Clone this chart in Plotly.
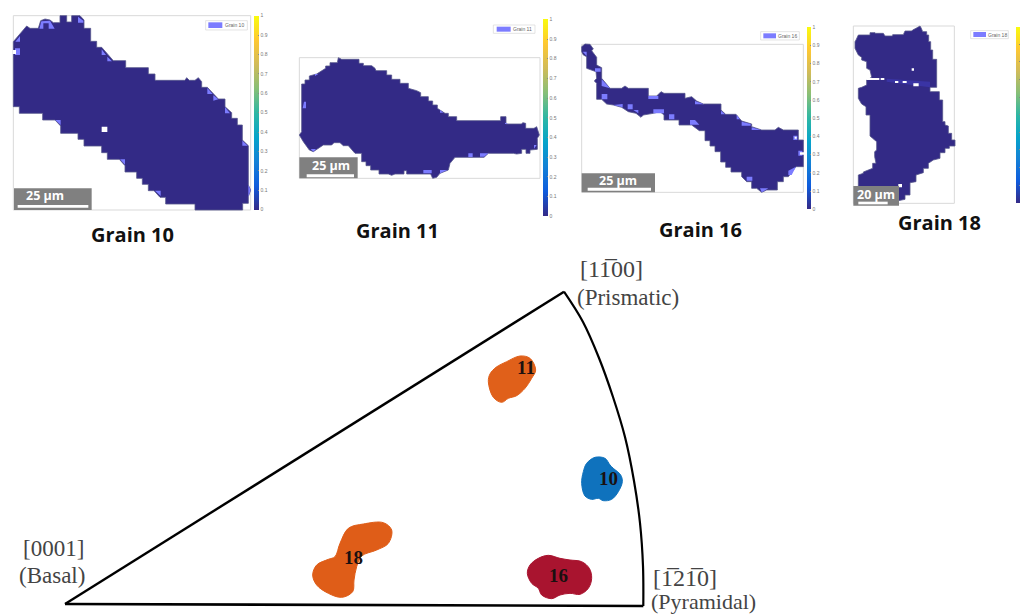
import plotly.graph_objects as go

# ---------- data: outlines, in crop coordinates (3x crop) ----------
grain10_outline = [(40,125),(80,78),(90,85),(115,85),(122,62),(135,57),(150,60),(160,68),(180,68),(180,47),(200,47),(200,66),(215,66),(215,47),(240,47),(252,60),(252,85),(272,85),(272,124),(290,124),(290,142),(305,142),(340,182),(377,182),(377,203),(445,203),(445,222),(465,222),(465,241),(555,241),(560,233),(568,241),(585,241),(595,233),(605,245),(605,262),(622,262),(655,297),(675,297),(675,320),(695,338),(695,355),(712,355),(712,375),(727,375),(727,420),(745,437),(745,555),(752,570),(745,590),(745,610),(728,610),(728,630),(585,630),(585,612),(497,612),(497,592),(480,592),(462,572),(445,572),(445,553),(427,553),(427,535),(410,535),(410,516),(375,516),(375,497),(358,478),(322,478),(322,458),(305,458),(305,438),(252,438),(252,418),(234,418),(234,400),(182,400),(182,378),(165,360),(128,360),(128,340),(58,340),(58,320),(40,320)]
grain10_patches = [[(46,125),(60,108),(60,125)],[(45,145),(60,145),(60,165),(45,165)],[(118,86),(124,64),(150,62),(164,86),(146,86),(146,70),(130,70),(130,86)],[(234,50),(250,62),(250,68),(234,68)],[(305,148),(318,165),(305,165)],[(322,170),(336,184),(322,184)],[(622,264),(638,282),(622,282)],[(640,286),(655,298),(640,302)],[(675,322),(690,340),(675,340)],[(727,422),(743,437),(727,437)],[(745,555),(752,570),(745,590)],[(166,360),(182,360),(182,375)],[(360,478),(375,478),(375,494)],[(465,572),(482,572),(482,588)]]
grain10_holes = [[(305,380),(322,380),(322,396),(305,396)],[(38,150),(48,150),(48,162),(38,162)]]

grain11_outline = [(58,405),(65,395),(65,252),(75,252),(75,240),(88,240),(88,228),(110,222),(137,205),(137,198),(150,198),(150,188),(172,188),(175,173),(185,178),(237,178),(237,190),(250,190),(250,197),(275,197),(285,205),(288,212),(320,212),(320,225),(335,225),(335,238),(360,238),(360,250),(385,250),(385,265),(410,272),(422,278),(422,290),(445,290),(445,303),(458,303),(458,315),(472,315),(472,325),(495,340),(505,340),(505,350),(530,350),(530,362),(662,362),(662,350),(678,350),(678,372),(725,372),(728,368),(737,370),(737,385),(762,385),(770,380),(778,405),(772,415),(772,448),(750,450),(750,460),(738,460),(738,448),(725,448),(725,460),(710,462),(700,460),(625,460),(612,472),(525,472),(510,490),(505,510),(480,520),(470,532),(458,535),(452,522),(380,522),(380,512),(372,512),(372,522),(345,522),(335,526),(325,522),(297,522),(297,510),(272,510),(272,497),(258,497),(258,485),(245,485),(245,460),(225,460),(205,437),(190,437),(180,428),(162,428),(155,435),(130,435),(112,447),(100,455),(88,450),(78,437),(70,425)]
grain11_patches = [[(68,325),(72,305),(78,305),(78,325)],[(92,447),(108,447),(100,455)],[(565,460),(578,460),(578,471),(565,471)],[(600,460),(625,460),(612,470),(600,470)],[(430,510),(455,510),(455,520),(430,520)],[(480,510),(502,510),(480,520)],[(480,330),(490,338),(480,338)],[(675,368),(685,372),(675,372)],[(762,435),(770,435),(762,446)],[(105,222),(115,222),(105,228)]]
grain11_holes = []

grain16_outline = [(65,140),(75,132),(90,133),(100,147),(95,152),(110,172),(110,195),(125,203),(125,235),(150,265),(185,265),(195,258),(205,265),(265,265),(265,288),(290,288),(303,275),(312,280),(375,280),(375,295),(395,290),(410,303),(430,312),(483,312),(483,330),(497,343),(528,343),(545,363),(575,372),(575,380),(605,390),(645,390),(655,382),(670,390),(715,390),(715,420),(730,420),(730,500),(708,500),(685,530),(670,530),(670,545),(652,545),(652,570),(620,570),(605,577),(590,565),(575,565),(575,545),(560,545),(545,530),(545,516),(513,516),(513,502),(497,502),(497,486),(482,486),(482,455),(465,455),(465,438),(450,438),(450,422),(435,422),(435,392),(418,392),(395,375),(357,375),(357,360),(312,360),(312,345),(300,335),(280,340),(250,345),(243,352),(228,340),(205,335),(185,322),(160,315),(140,312),(125,298),(110,298),(110,250),(103,243),(110,235),(108,215),(80,205),(80,170),(70,165),(65,155)]
grain16_patches = [[(125,282),(142,282),(142,298),(125,298)],[(203,313),(218,313),(218,328),(203,328)],[(327,343),(343,343),(343,358),(327,358)],[(390,360),(405,360),(418,374),(390,374)],[(280,328),(312,328),(312,340),(280,340)],[(265,288),(295,288),(295,297),(265,297)],[(405,303),(432,313),(405,313)],[(545,365),(572,372),(572,377),(545,377)],[(575,382),(603,390),(575,390)],[(700,407),(712,407),(712,420),(700,420)],[(715,452),(727,452),(727,467),(715,467)],[(560,530),(577,530),(577,542),(560,542)],[(600,565),(625,565),(605,577)],[(685,512),(708,500),(695,525),(685,525)],[(125,238),(150,265),(125,258)],[(105,205),(122,205),(122,215),(105,215)],[(68,155),(80,155),(80,168)],[(160,315),(188,312),(188,322)],[(220,330),(235,330),(235,340)],[(483,332),(495,343),(483,343)],[(530,345),(540,358),(530,358)]]
grain16_holes = [[(720,457),(732,457),(732,464),(720,464)],[(704,410),(710,410),(710,416),(704,416)]]

grain18_outline = [(78,120),(85,105),(120,105),(120,98),(135,98),(135,100),(160,100),(165,108),(188,108),(188,104),(220,104),(225,93),(245,93),(248,90),(258,85),(270,78),(274,85),(278,95),(290,95),(290,105),(296,105),(296,125),(302,125),(302,150),(308,150),(308,178),(320,178),(320,262),(300,262),(300,275),(328,275),(328,300),(338,300),(338,365),(345,365),(345,375),(355,378),(355,400),(365,400),(365,420),(375,420),(375,438),(358,438),(358,445),(345,445),(345,458),(330,458),(330,475),(310,480),(295,490),(295,505),(280,505),(280,518),(258,525),(258,545),(240,548),(240,585),(225,585),(225,598),(205,602),(150,598),(85,558),(85,525),(100,520),(100,516),(128,505),(128,490),(138,490),(134,470),(134,455),(140,450),(140,425),(128,415),(120,408),(120,345),(108,345),(108,320),(95,312),(85,295),(85,265),(95,262),(110,255),(110,240),(125,232),(120,210),(110,205),(110,185),(95,180),(95,172),(85,165),(75,145),(75,125)]
grain18_patches = [[(170,236),(300,245),(300,262),(170,245)]]
grain18_holes = [[(110,234),(148,234),(148,240),(110,240)],[(152,234),(163,234),(163,240),(152,240)],[(195,243),(205,243),(205,249),(195,249)],[(218,243),(230,243),(230,249),(218,249)],[(250,250),(266,250),(266,259),(250,259)],[(245,205),(252,205),(252,212),(245,212)],[(205,552),(216,552),(216,562),(205,562)]]

ipf_basal = (65, 604)
ipf_prismatic_arc = [(564,291.7),(583,322),(599,358),(613,397),(625,437),(634,481),(640,523),(643,566),(643.3,606)]
ipf_pyramidal = (643.3, 606)

blob11 = [(55,395),(60,372),(78,352),(110,335),(150,318),(180,325),(197,360),(185,385),(165,415),(140,437),(115,445),(95,457),(70,442)]
blob10 = [(335,700),(340,665),(350,640),(375,622),(405,625),(420,645),(430,655),(452,675),(457,695),(445,725),(425,748),(400,752),(385,745),(365,748),(345,738)]
blob16 = [(172,970),(180,945),(205,925),(235,916),(270,925),(300,930),(335,935),(358,955),(365,985),(355,1015),(330,1033),(300,1030),(270,1035),(245,1046),(215,1035),(205,1015),(185,1000)]
blob18 = [(938,225),(950,195),(985,178),(1005,170),(1020,130),(1045,85),(1090,72),(1150,68),(1175,90),(1165,130),(1130,150),(1085,168),(1070,200),(1062,240),(1058,275),(1025,292),(985,280),(950,255)]

grain_names = ["Grain 10", "Grain 11", "Grain 16", "Grain 18"]
scale_texts = ["25 µm", "25 µm", "25 µm", "20 µm"]
colorbar_ticks = [0, 0.1, 0.2, 0.3, 0.4, 0.5, 0.6, 0.7, 0.8, 0.9, 1]
grain_value = [0, 1]

# ---------- styling / layout ----------
W, H = 1022, 614
GRAIN = "#332a86"
PATCH = "#7c7cff"
EDGE = "#55558c"
PARULA = [[0,"#352a87"],[0.125,"#0f5cdd"],[0.25,"#1481d6"],[0.375,"#06a4ca"],[0.5,"#2eb7a4"],
          [0.625,"#87bf77"],[0.75,"#d1bb59"],[0.875,"#fec832"],[1,"#f9fb0e"]]

def crop(pts, ox, oy):
    return [(ox + x / 3, oy + y / 3) for x, y in pts]

panels = [
    dict(off=(0,0), outline=grain10_outline, patches=grain10_patches, holes=grain10_holes, pfill=PATCH,
         frame=(40,47,752,630), legend=(617,62,742,90), patch=(625,67,667,84), ltext=704,
         scale=(42,565,275,630), bar=(53,615,265,623), stext=(135,586),
         cbar=(762,47,776,630), labels=True, title=(398,702)),
    dict(off=(280,0), outline=grain11_outline, patches=grain11_patches, holes=grain11_holes, pfill=PATCH,
         frame=(58,173,780,535), legend=(640,75,765,100), patch=(650,80,692,95), ltext=728,
         scale=(58,472,233,535), bar=(80,523,222,532), stext=(152,495),
         cbar=(790,58,804,648), labels=True, title=(352,692)),
    dict(off=(560,0), outline=grain16_outline, patches=grain16_patches, holes=grain16_holes, pfill=PATCH,
         frame=(65,133,730,577), legend=(602,95,718,120), patch=(610,100,648,115), ltext=683,
         scale=(65,520,285,577), bar=(83,563,273,572), stext=(175,540),
         cbar=(741,82,752,628), labels=True, title=(420,688)),
    dict(off=(830,0), outline=grain18_outline, patches=grain18_patches, holes=grain18_holes, pfill="#3a34a4",
         frame=(70,78,373,610), legend=(422,92,535,116), patch=(430,96,468,111), ltext=501,
         scale=(70,558,207,617), bar=(85,605,173,613), stext=(138,582),
         cbar=(557,80,570,607), labels=False, title=(328,668)),
]

fig = go.Figure()
shapes, annos = [], []

def poly_trace(polys, fill, line=None, lw=0, ox=0, oy=0):
    xs, ys = [], []
    for p in polys:
        q = crop(p, ox, oy)
        xs += [a for a, _ in q] + [q[0][0], None]
        ys += [b for _, b in q] + [q[0][1], None]
    return go.Scatter(x=xs, y=ys, mode="lines", fill="toself", fillcolor=fill,
                      line=dict(color=line or fill, width=lw), hoverinfo="skip", showlegend=False)

def rect(box, ox, oy, fill=None, line=None, lw=0, layer="above"):
    x0, y0, x1, y1 = box
    return dict(type="rect", xref="x", yref="y", x0=ox+x0/3, y0=oy+y0/3, x1=ox+x1/3, y1=oy+y1/3, layer=layer,
                fillcolor=fill or "rgba(0,0,0,0)", line=dict(color=line or "rgba(0,0,0,0)", width=lw))

def text(x, y, s, size, color, family, anchor="center"):
    return dict(x=x, y=y, xref="x", yref="y", text=s, showarrow=False, xanchor=anchor, yanchor="middle",
                font=dict(size=size, color=color, family=family))

for i, (p, name, st) in enumerate(zip(panels, grain_names, scale_texts)):
    ox, oy = p["off"]
    shapes.append(rect(p["frame"], ox, oy, "#ffffff", "#d9d9d9", 1, layer="below"))
    fig.add_trace(poly_trace([p["outline"]], GRAIN, EDGE, 0.8, ox, oy))
    fig.add_trace(poly_trace(p["patches"], p["pfill"], ox=ox, oy=oy))
    if p["holes"]:
        fig.add_trace(poly_trace(p["holes"], "#ffffff", ox=ox, oy=oy))
    shapes.append(rect(p["legend"], ox, oy, "#ffffff", "#d9d9d9", 0.7))
    shapes.append(rect(p["patch"], ox, oy, PATCH))
    shapes.append(rect(p["scale"], ox, oy, "#808080"))
    shapes.append(rect(p["bar"], ox, oy, "#ffffff"))
    ly = (p["legend"][1] + p["legend"][3]) / 6
    annos.append(text(ox + p["ltext"] / 3, oy + ly, name, 5, "#666666", "Liberation Sans"))
    annos.append(text(ox + p["stext"][0] / 3, oy + p["stext"][1] / 3, "<b>%s</b>" % st, 12.5, "#ffffff", "Open Sans"))
    annos.append(text(ox + p["title"][0] / 3, oy + p["title"][1] / 3, "<b>%s</b>" % name, 20, "#111111", "Open Sans"))
    # colourbar carried by the (zero valued) grain itself, on the 0..1 scale
    x0, y0, x1, y1 = p["cbar"]
    ca = "coloraxis" if i == 0 else "coloraxis%d" % (i + 1)
    cx, cy = crop([p["outline"][0]], ox, oy)[0]
    fig.add_trace(go.Scatter(x=[cx, cx], y=[cy, cy], mode="markers",
                             marker=dict(color=grain_value, coloraxis=ca, size=1, opacity=0),
                             hoverinfo="skip", showlegend=False))
    fig.layout[ca] = dict(colorscale=PARULA, cmin=0, cmax=1, colorbar=dict(
        x=(ox + x0 / 3) / W, xanchor="left", y=1 - (oy + y0 / 3) / H, yanchor="top",
        lenmode="pixels", len=(y1 - y0) / 3, thicknessmode="pixels", thickness=(x1 - x0) / 3,
        xpad=0, ypad=0, outlinewidth=0, tickvals=colorbar_ticks,
        ticktext=[str(t) for t in colorbar_ticks] if p["labels"] else [""] * len(colorbar_ticks),
        ticks="inside", ticklen=1, tickcolor="#888888", tickfont=dict(size=5, color="#777777", family="Liberation Sans")))

# inverse pole figure triangle
ipf_x = [ipf_basal[0], ipf_prismatic_arc[0][0]]
ipf_y = [ipf_basal[1], ipf_prismatic_arc[0][1]]
fig.add_trace(go.Scatter(x=ipf_x, y=ipf_y, mode="lines", line=dict(color="#000000", width=2.4), hoverinfo="skip", showlegend=False))
fig.add_trace(go.Scatter(x=[a for a, _ in ipf_prismatic_arc], y=[b for _, b in ipf_prismatic_arc], mode="lines",
                         line=dict(color="#000000", width=2.2, shape="spline"), hoverinfo="skip", showlegend=False))
fig.add_trace(go.Scatter(x=[ipf_pyramidal[0], ipf_basal[0]], y=[ipf_pyramidal[1], ipf_basal[1]], mode="lines",
                         line=dict(color="#000000", width=2.6), hoverinfo="skip", showlegend=False))

# grain orientation blobs
blobs = [(crop(blob11, 470, 250), "#e0601a", "11", (526, 367)),
         (crop(blob10, 470, 250), "#0f72bd", "10", (608, 478)),
         (crop(blob16, 470, 250), "#a9142f", "16", (558, 575)),
         (crop(blob18, 0, 500), "#df5d18", "18", (353, 557))]
for pts, col, lab, pos in blobs:
    closed = pts + pts[:1]
    fig.add_trace(go.Scatter(x=[a for a, _ in closed], y=[b for _, b in closed], mode="lines", fill="toself",
                             fillcolor=col, line=dict(color=col, width=1, shape="spline"),
                             hoverinfo="skip", showlegend=False))
    annos.append(text(pos[0], pos[1], "<b>%s</b>" % lab, 19, "#1a1010", "Liberation Serif"))

SER = "Liberation Serif"
annos += [
    text(611, 269, "[1 1\u0305 00]".replace(" ", ""), 24, "#444444", SER),
    text(628, 297, "(Prismatic)", 23, "#444444", SER),
    text(685, 578, "[1\u03052 1\u0305 0]".replace(" ", ""), 24, "#444444", SER),
    text(703, 601, "(Pyramidal)", 22, "#444444", SER),
    text(53, 548, "[0001]", 23, "#444444", SER),
    text(52, 575, "(Basal)", 23, "#444444", SER),
]

fig.update_layout(
    width=W, height=H, margin=dict(l=0, r=0, t=0, b=0), paper_bgcolor="#ffffff", plot_bgcolor="#ffffff",
    showlegend=False, shapes=shapes, annotations=annos,
    xaxis=dict(range=[0, W], visible=False, fixedrange=True),
    yaxis=dict(range=[H, 0], visible=False, fixedrange=True),
)
fig.write_html("out.html", config=dict(displayModeBar=False),
               post_script="document.body.style.margin='0';")
